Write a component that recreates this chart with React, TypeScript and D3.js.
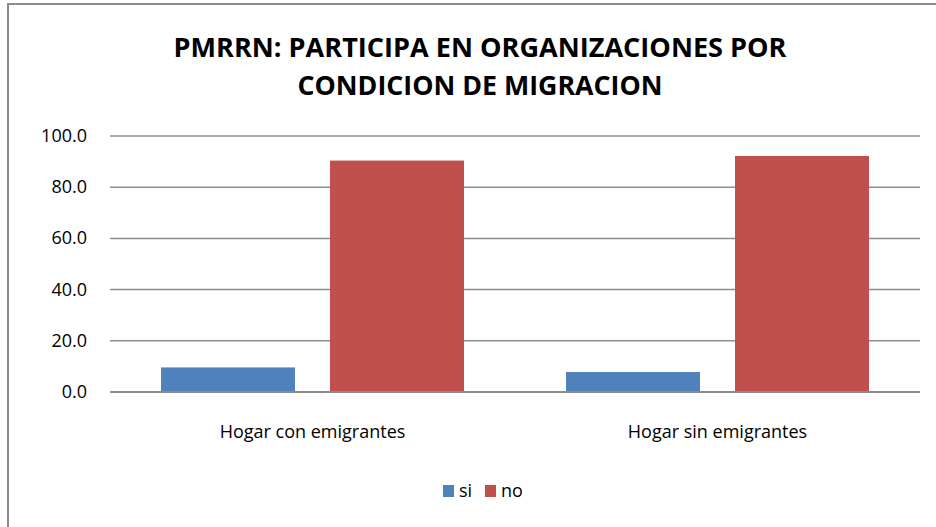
import React, { useRef, useEffect } from "react";
import * as d3 from "d3";

const categories = ["Hogar con emigrantes", "Hogar sin emigrantes"];
const seriesNames = ["si", "no"];
const siValues = [9.6, 7.8];
const noValues = [90.4, 92.2];
const yTicks = [0, 20, 40, 60, 80, 100];
const titleLines = ["PMRRN: PARTICIPA EN ORGANIZACIONES POR", "CONDICION DE MIGRACION"];

const colors = ["#4f81bd", "#c0504d"];

export default function App() {
  const svgRef = useRef<SVGSVGElement>(null);

  useEffect(() => {
    const width = 936;
    const height = 527;
    const margin = { top: 136, right: 16, bottom: 135, left: 110 };
    const font = "'Open Sans', 'Liberation Sans', sans-serif";

    const svg = d3.select(svgRef.current);
    svg.selectAll("*").remove();

    // outer frame (cut off at right/bottom like the screenshot)
    svg.append("rect")
      .attr("x", 8).attr("y", 4)
      .attr("width", width + 10).attr("height", height + 10)
      .attr("fill", "#fff")
      .attr("stroke", "#8c8c8c")
      .attr("stroke-width", 2);

    // title
    svg.append("text")
      .attr("x", 480).attr("y", 57)
      .attr("text-anchor", "middle")
      .attr("textLength", 613)
      .attr("lengthAdjust", "spacingAndGlyphs")
      .style("font-family", font)
      .style("font-weight", 700)
      .style("font-size", "27px")
      .style("fill", "#000")
      .text(titleLines[0]);
    svg.append("text")
      .attr("x", 480).attr("y", 95)
      .attr("text-anchor", "middle")
      .attr("textLength", 365)
      .attr("lengthAdjust", "spacingAndGlyphs")
      .style("font-family", font)
      .style("font-weight", 700)
      .style("font-size", "27px")
      .style("fill", "#000")
      .text(titleLines[1]);

    const x0 = d3.scaleBand()
      .domain(categories)
      .range([margin.left, width - margin.right])
      .padding(0);

    const x1 = d3.scaleBand()
      .domain(seriesNames)
      .range([0, x0.bandwidth()])
      .paddingInner(35 / 169)
      .paddingOuter(51 / 169);

    const y = d3.scaleLinear()
      .domain([0, 100])
      .range([height - margin.bottom, margin.top]);

    // gridlines
    svg.append("g")
      .selectAll("line")
      .data(yTicks)
      .enter()
      .append("line")
      .attr("x1", margin.left)
      .attr("x2", width - margin.right)
      .attr("y1", d => y(d))
      .attr("y2", d => y(d))
      .attr("stroke", "#8c8c8c")
      .attr("stroke-width", 1.5);

    // y tick labels
    svg.append("g")
      .selectAll("text")
      .data(yTicks)
      .enter()
      .append("text")
      .attr("x", 87)
      .attr("y", d => y(d) + 6)
      .attr("text-anchor", "end")
      .style("font-family", font)
      .style("font-size", "18px")
      .style("fill", "#000")
      .text(d => d.toFixed(1));

    const rows = categories.map((c, i) => ({ cat: c, values: [siValues[i], noValues[i]] }));

    // bars
    const groups = svg.append("g")
      .selectAll("g")
      .data(rows)
      .enter()
      .append("g")
      .attr("transform", d => `translate(${x0(d.cat)},0)`);

    groups.selectAll("rect")
      .data(d => d.values.map((v, j) => ({ key: seriesNames[j], value: v, idx: j })))
      .enter()
      .append("rect")
      .attr("x", d => x1(d.key)!)
      .attr("width", x1.bandwidth())
      .attr("y", d => y(d.value))
      .attr("height", d => y(0) - y(d.value))
      .attr("fill", d => colors[d.idx]);

    // baseline
    svg.append("line")
      .attr("x1", margin.left)
      .attr("x2", width - margin.right)
      .attr("y1", y(0))
      .attr("y2", y(0))
      .attr("stroke", "#8c8c8c")
      .attr("stroke-width", 2);

    // category labels
    svg.append("g")
      .selectAll("text")
      .data(categories)
      .enter()
      .append("text")
      .attr("x", d => x0(d)! + x0.bandwidth() / 2)
      .attr("y", 438)
      .attr("text-anchor", "middle")
      .style("font-family", font)
      .style("font-size", "18px")
      .style("fill", "#000")
      .text(d => d);

    // legend
    const legendX = [443, 485];
    const legend = svg.append("g")
      .selectAll("g")
      .data(seriesNames)
      .enter()
      .append("g")
      .attr("transform", (d, i) => `translate(${legendX[i]},485)`);
    legend.append("rect")
      .attr("width", 11).attr("height", 12)
      .attr("fill", (d, i) => colors[i]);
    legend.append("text")
      .attr("x", 16).attr("y", 12)
      .style("font-family", font)
      .style("font-size", "18px")
      .style("fill", "#000")
      .text(d => d);
  }, []);

  return (
    <svg
      ref={svgRef}
      width={936}
      height={527}
      style={{ position: "fixed", left: 0, top: 0, background: "#fff" }}
    />
  );
}
